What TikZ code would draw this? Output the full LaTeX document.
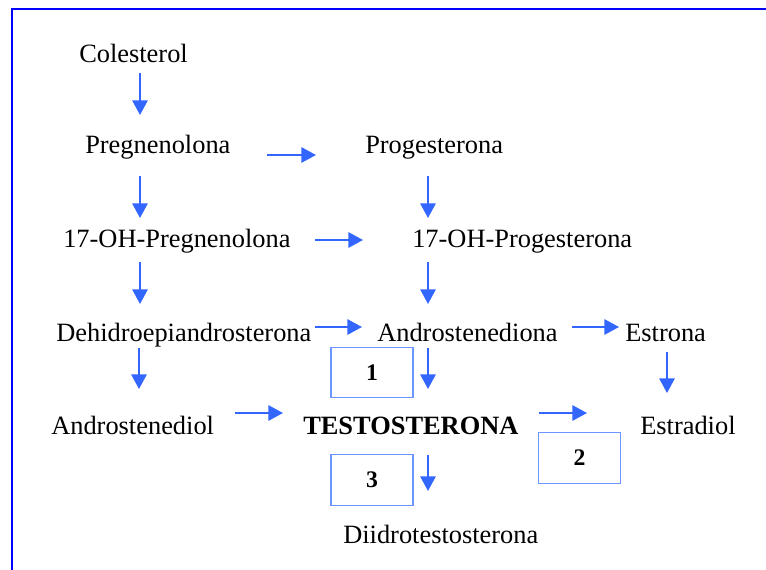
\documentclass[tikz,border=0pt]{standalone}
\usepackage{fontspec}
\setmainfont{Liberation Serif}
\usetikzlibrary{arrows.meta}
\definecolor{frameblue}{RGB}{0,0,255}
\definecolor{arrowblue}{RGB}{51,102,255}
\definecolor{boxblue}{RGB}{108,150,255}
\begin{document}
\begin{tikzpicture}[x=0.75pt,y=-0.75pt,
  lbl/.style={anchor=base west,inner sep=0pt,font=\fontsize{19.8}{23}\selectfont},
  blbl/.style={lbl,font=\fontsize{19.8}{23}\selectfont\bfseries},
  enzbox/.style={draw=boxblue,line width=0.8pt,inner sep=0pt,minimum width=61.5pt,minimum height=38pt,font=\fontsize{17.8}{20}\selectfont\bfseries},
  arr/.style={draw=arrowblue,line width=1.5pt,-{Triangle[length=11pt,width=11.5pt]}}]
\useasboundingbox (0,0) rectangle (766,569);
\clip (0,0) rectangle (766,569);
\draw[frameblue,line width=1.9pt] (12,9) rectangle (800,600);
% compounds
\node[lbl] (col) at (79,62) {Colesterol};
\node[lbl] (preg) at (85,153) {Pregnenolona};
\node[lbl] (prog) at (365,153) {Progesterona};
\node[lbl] (ohpreg) at (63,247) {17-OH-Pregnenolona};
\node[lbl] (ohprog) at (412,247) {17-OH-Progesterona};
\node[lbl] (dhea) at (56,341) {Dehidroepiandrosterona};
\node[lbl] (andione) at (377,341) {Androstenediona};
\node[lbl] (estrona) at (625,341) {Estrona};
\node[lbl] (andiol) at (51,434) {Androstenediol};
\node[blbl] (testo) at (303,434) {TESTOSTERONA};
\node[lbl] (estradiol) at (640,434) {Estradiol};
\node[lbl] (dht) at (343,543) {Diidrotestosterona};
% enzyme boxes
\node[enzbox] (b1) at (372,372.5) {1};
\node[enzbox] (b2) at (579.5,458) {2};
\node[enzbox] (b3) at (372,480) {3};
% arrow end points
\coordinate (colS) at (140,73);   \coordinate (pregN) at (140,115);
\coordinate (pregE) at (267,155); \coordinate (progW) at (316,155);
\coordinate (pregS) at (140,176); \coordinate (ohpregN) at (140,218);
\coordinate (progS) at (428,176); \coordinate (ohprogN) at (428,218);
\coordinate (ohpregE) at (315,240); \coordinate (ohprogW) at (363,240);
\coordinate (ohpregS) at (140,262); \coordinate (dheaN) at (140,304);
\coordinate (ohprogS) at (428,262); \coordinate (andioneN) at (428,304);
\coordinate (dheaE) at (315,327); \coordinate (andioneW) at (362,327);
\coordinate (andioneE) at (572,327); \coordinate (estronaW) at (619,327);
\coordinate (dheaS) at (139,348); \coordinate (andiolN) at (139,389);
\coordinate (andioneS) at (428,348); \coordinate (testoN) at (428,389);
\coordinate (estronaS) at (667,352); \coordinate (estradiolN) at (667,393);
\coordinate (andiolE) at (235,413); \coordinate (testoW) at (283,413);
\coordinate (testoE) at (539,413); \coordinate (estradiolW) at (587,413);
\coordinate (testoS) at (428,455); \coordinate (dhtN) at (428,491);
% arrows
\draw[arr] (colS) -- (pregN);
\draw[arr] (pregE) -- (progW);
\draw[arr] (pregS) -- (ohpregN);
\draw[arr] (progS) -- (ohprogN);
\draw[arr] (ohpregE) -- (ohprogW);
\draw[arr] (ohpregS) -- (dheaN);
\draw[arr] (ohprogS) -- (andioneN);
\draw[arr] (dheaE) -- (andioneW);
\draw[arr] (andioneE) -- (estronaW);
\draw[arr] (dheaS) -- (andiolN);
\draw[arr] (andioneS) -- (testoN);
\draw[arr] (estronaS) -- (estradiolN);
\draw[arr] (andiolE) -- (testoW);
\draw[arr] (testoE) -- (estradiolW);
\draw[arr] (testoS) -- (dhtN);
\end{tikzpicture}
\end{document}
